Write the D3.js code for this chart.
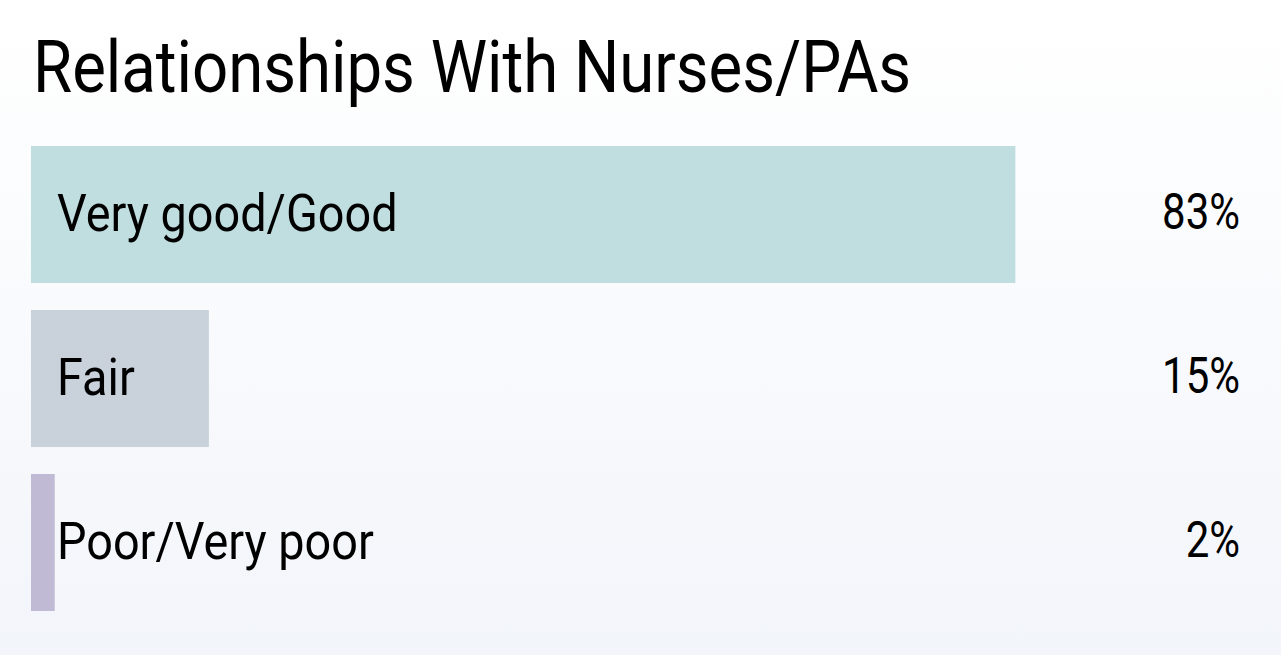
<!DOCTYPE html>
<html>
<head>
<meta charset="utf-8">
<script src="https://cdn.jsdelivr.net/npm/d3@7"></script>
<style>
  html, body { margin: 0; padding: 0; }
  body { width: 1281px; height: 655px; overflow: hidden; }
  text { font-family: Roboto, "Noto Sans", sans-serif; fill: #000; }
</style>
</head>
<body>
<div id="chart"></div>
<script>
const categories = ["Very good/Good", "Fair", "Poor/Very poor"];
const values = [83, 15, 2];
const valueLabels = ["83%", "15%", "2%"];
const colors = ["#c0dee0", "#c9d2da", "#c0bad4"];
const title = "Relationships With Nurses/PAs";

const W = 1281, H = 655;

const svg = d3.select("#chart").append("svg")
    .attr("width", W)
    .attr("height", H);

const grad = svg.append("defs").append("linearGradient")
    .attr("id", "bg").attr("x1", 0).attr("y1", 0).attr("x2", 0).attr("y2", 1);
grad.append("stop").attr("offset", "0%").attr("stop-color", "#ffffff");
grad.append("stop").attr("offset", "100%").attr("stop-color", "#f2f5fa");
svg.append("rect").attr("width", W).attr("height", H).attr("fill", "url(#bg)");

const x = d3.scaleLinear().domain([0, 100]).range([31, 1217]);
// step 164, bar 137
const y = d3.scaleBand().domain(categories).range([146, 611]).paddingInner(27 / 164).paddingOuter(0);

// title
svg.append("text")
    .attr("transform", "translate(33,92) scale(0.87,1)")
    .style("font-size", "73px")
    .text(title);

const row = svg.selectAll(".row")
    .data(categories)
    .enter().append("g")
    .attr("class", "row");

row.append("rect")
    .attr("x", x(0))
    .attr("y", d => y(d))
    .attr("width", (d, i) => x(values[i]) - x(0))
    .attr("height", y.bandwidth())
    .attr("fill", (d, i) => colors[i]);

row.append("text")
    .attr("transform", d => `translate(57,${y(d) + y.bandwidth() / 2 + 16}) scale(0.9,1)`)
    .style("font-size", "52px")
    .text(d => d);

row.append("text")
    .attr("transform", d => `translate(1240,${y(d) + y.bandwidth() / 2 + 14}) scale(0.84,1)`)
    .attr("text-anchor", "end")
    .style("font-size", "50px")
    .text((d, i) => valueLabels[i]);
</script>
</body>
</html>
